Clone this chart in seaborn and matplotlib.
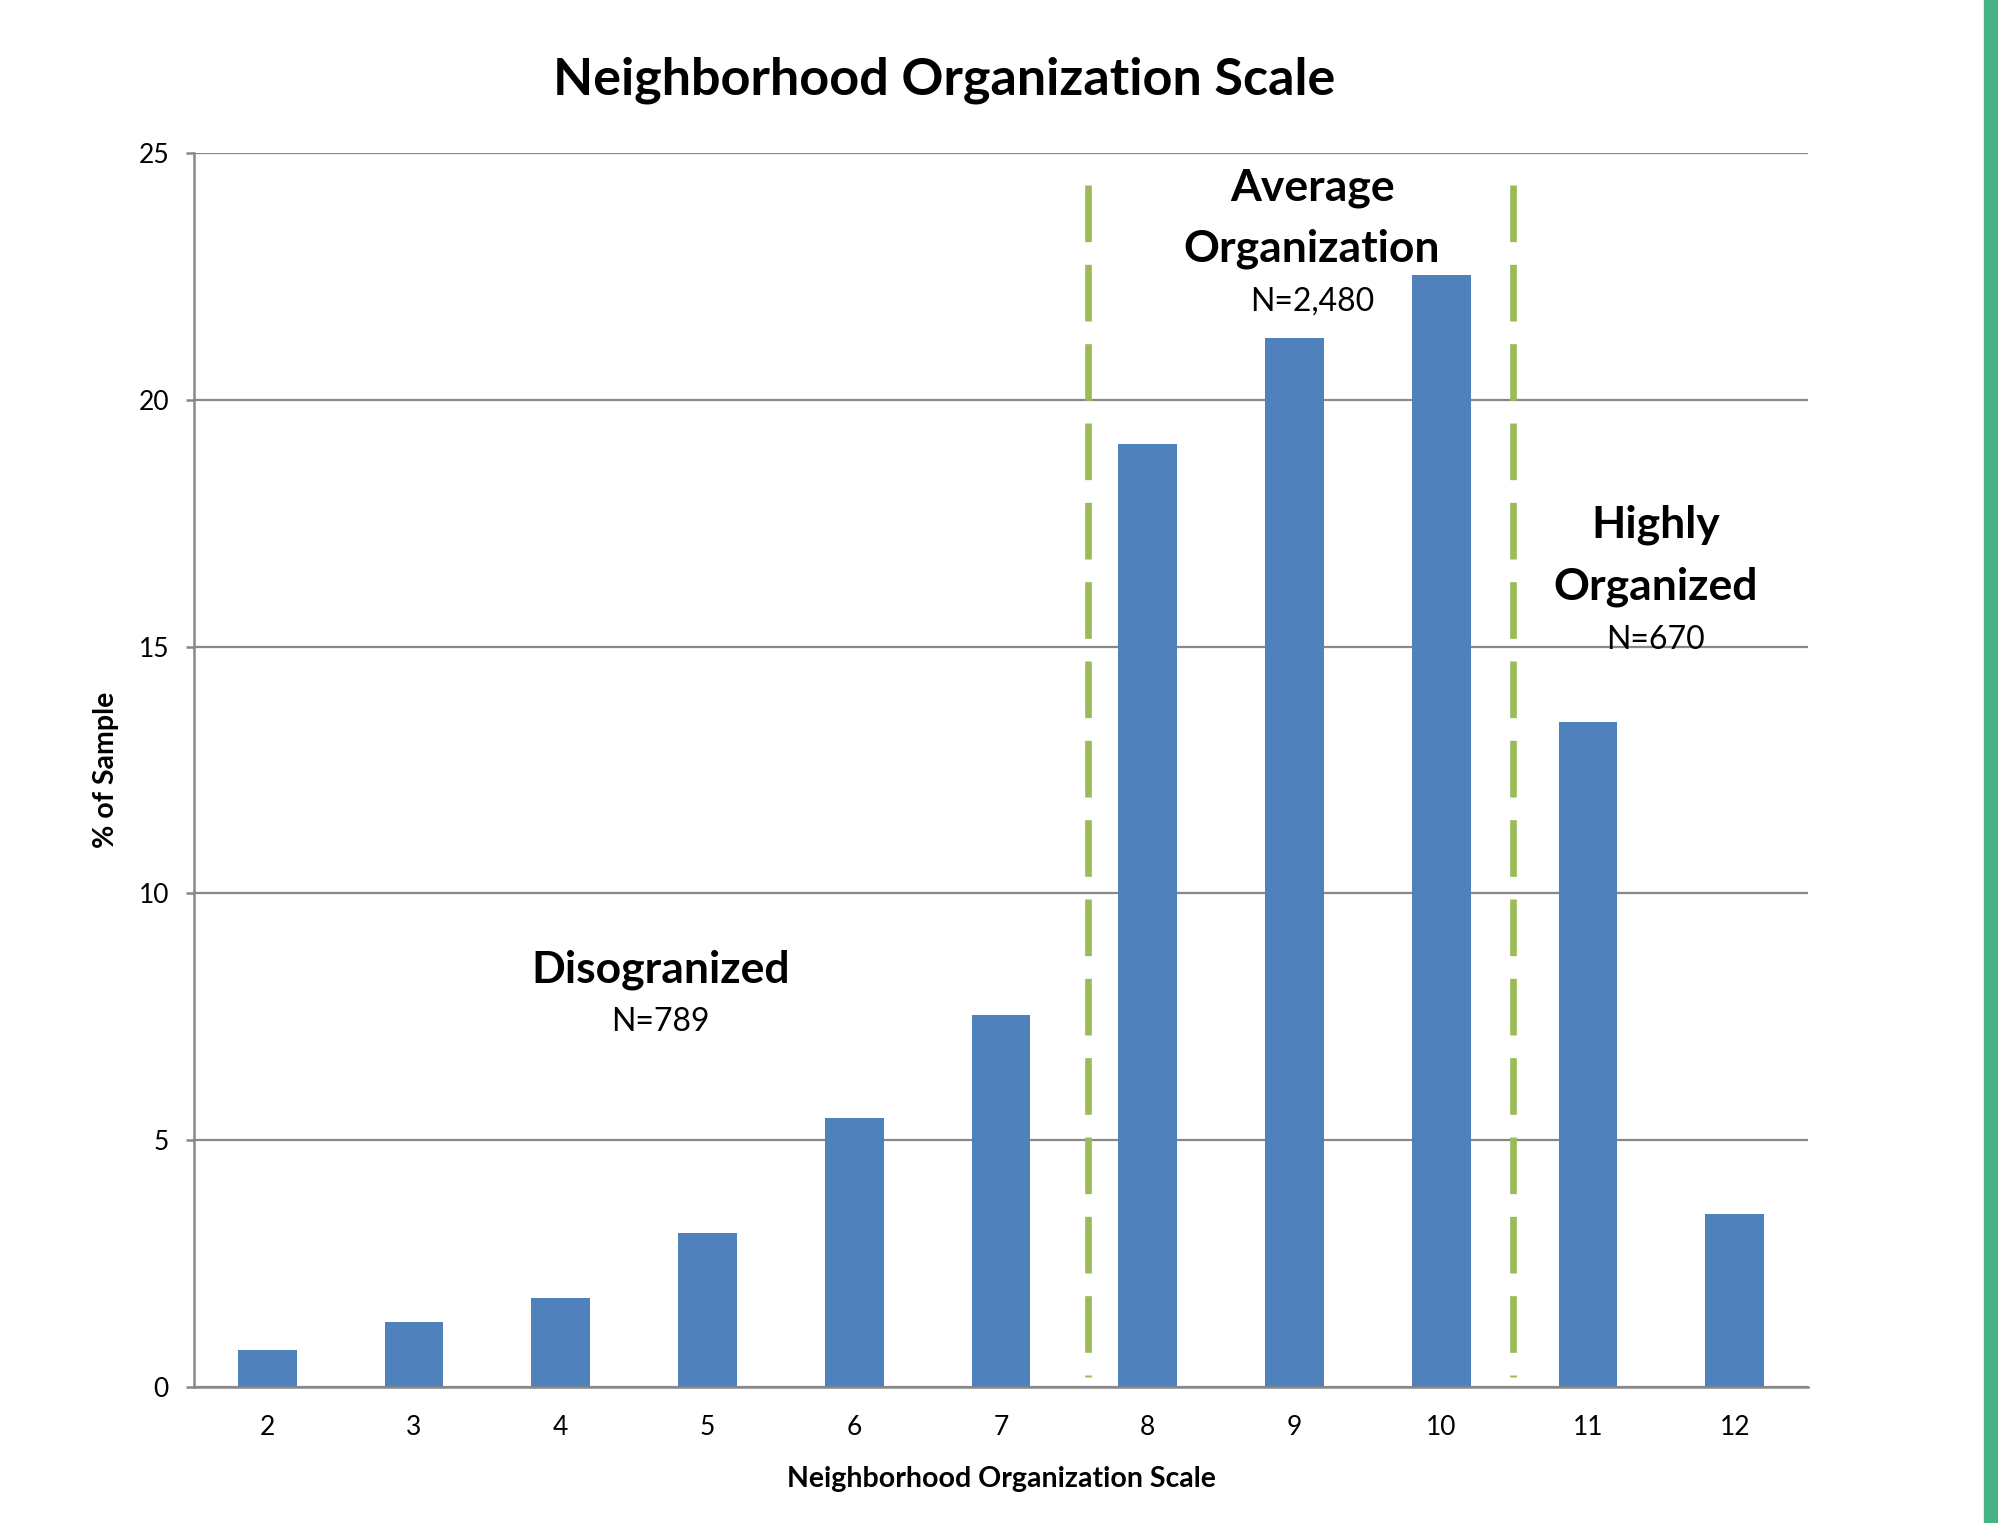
import matplotlib
matplotlib.use("Agg")
import matplotlib.pyplot as plt
import seaborn as sns
import pandas as pd
import numpy as np

# data
scale_vals = ["2", "3", "4", "5", "6", "7", "8", "9", "10", "11", "12"]
pct_sample = [0.75, 1.32, 1.81, 3.12, 5.45, 7.54, 19.11, 21.26, 22.52, 13.48, 3.51]
cut_points = [5.59, 8.49]

sns.set_theme(style="white")
plt.rcParams['font.family'] = ['Lato', 'DejaVu Sans']
plt.rcParams['text.color'] = "black"
plt.rcParams['axes.labelcolor'] = "black"

df = pd.DataFrame({"scale": scale_vals, "pct": pct_sample})

fig = plt.figure(figsize=(19.99, 15.23), dpi=100)
ax = fig.add_axes([0.097, 0.0893, 0.8075, 0.8102])

sns.barplot(data=df, x="scale", y="pct", color="#4F81BD", saturation=1,
            width=0.4, linewidth=0, ax=ax)

ax.set_xlim(-0.5, 10.5)
ax.set_ylim(0, 25)
ax.set_yticks(np.arange(0, 26, 5))
ax.yaxis.grid(True, color="#888888", linewidth=1.6)
ax.set_axisbelow(True)

for s in ["top", "right"]:
    ax.spines[s].set_visible(False)
for s in ["left", "bottom"]:
    ax.spines[s].set_color("#888888")
    ax.spines[s].set_linewidth(1.8)

ax.set_xticks(np.arange(-0.5, 11, 1), minor=True)
ax.tick_params(axis="x", which="major", length=0, labelsize=19, pad=20, labelcolor="black")
ax.tick_params(axis="x", which="minor", length=8, width=1.8, color="#888888", direction="out")
ax.tick_params(axis="y", length=6, width=1.8, color="#888888", direction="out",
               labelsize=19, pad=12, left=True, labelcolor="black")

ax.set_xlabel("Neighborhood Organization Scale", fontsize=20.5, fontweight="bold", labelpad=19)
ax.set_ylabel("% of Sample", fontsize=20.5, fontweight="bold", labelpad=14)

# cut lines between groups (drawn top-down so the dash pattern starts at the top)
for c in cut_points:
    ax.plot([c, c], [24.35, 0.2], color="#9BBB59", linewidth=4.8,
            dashes=(8.5, 3.4), solid_capstyle="butt")

# group labels
ax.text(7.12, 24.3, "Average", ha="center", va="center", fontsize=32, fontweight="bold")
ax.text(7.12, 23.06, "Organization", ha="center", va="center", fontsize=32, fontweight="bold")
ax.text(7.12, 22.0, "N=2,480", ha="center", va="center", fontsize=23)

ax.text(9.46, 17.46, "Highly", ha="center", va="center", fontsize=32, fontweight="bold")
ax.text(9.46, 16.22, "Organized", ha="center", va="center", fontsize=32, fontweight="bold")
ax.text(9.46, 15.13, "N=670", ha="center", va="center", fontsize=23)

ax.text(2.68, 8.45, "Disogranized", ha="center", va="center", fontsize=32, fontweight="bold")
ax.text(2.68, 7.39, "N=789", ha="center", va="center", fontsize=23)

fig.text(0.4722, 0.9475, "Neighborhood Organization Scale", ha="center", va="center",
         fontsize=37.5, fontweight="bold")

# green strip on the right edge
fig.patches.append(plt.Rectangle((0.9925, 0), 0.0075, 1, transform=fig.transFigure,
                                 color="#45B384", zorder=5))

fig.savefig("out.png", dpi=100)
